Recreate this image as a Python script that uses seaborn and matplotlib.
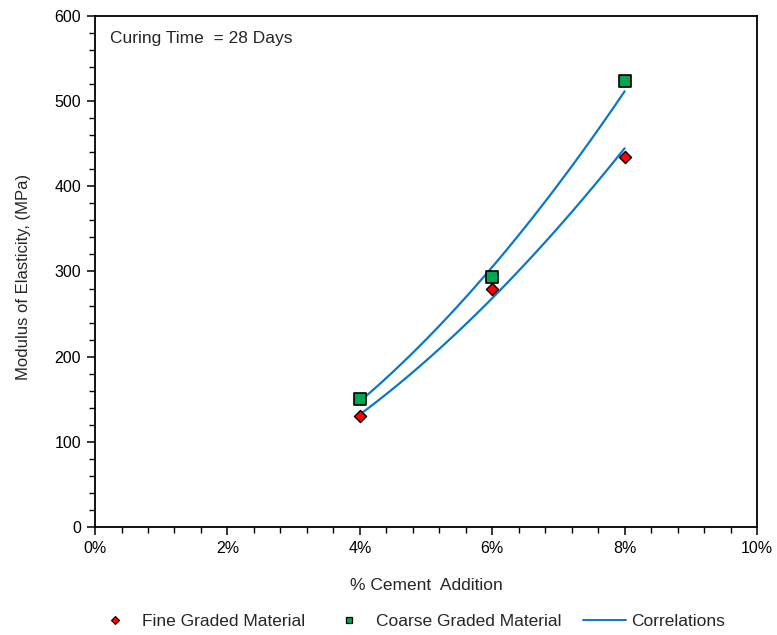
import numpy as np
import pandas as pd
import seaborn as sns
import matplotlib.pyplot as plt
from matplotlib.ticker import MultipleLocator, FuncFormatter
from matplotlib.lines import Line2D

sns.set_theme(style="white")
plt.rcParams['font.family'] = ['Liberation Sans', 'DejaVu Sans']

# --- data ---
cement_pct = [4, 6, 8]
fine_modulus = [130, 279, 435]
coarse_modulus = [150, 293, 524]

fine_color = "#FF0000"
coarse_color = "#00A651"
fit_color = "#0A78C8"

df = pd.DataFrame({
    "cement": cement_pct * 2,
    "modulus": fine_modulus + coarse_modulus,
    "material": ["Fine Graded Material"] * 3 + ["Coarse Graded Material"] * 3,
})


# power-law correlation (y = a * x^b) fitted to each series, like the trendline
def power_fit(x, y):
    b, ln_a = np.polyfit(np.log(x), np.log(y), 1)
    xs = np.linspace(min(x), max(x), 60)
    return pd.DataFrame({"cement": xs, "modulus": np.exp(ln_a) * xs ** b})


fig = plt.figure(figsize=(7.77, 6.35), dpi=100)
ax = fig.add_axes([0.1223, 0.1701, 0.8520, 0.8047])

for mat in ["Fine Graded Material", "Coarse Graded Material"]:
    sub = df[df["material"] == mat]
    fit = power_fit(sub["cement"].values, sub["modulus"].values)
    sns.lineplot(data=fit, x="cement", y="modulus", ax=ax, color=fit_color,
                 linewidth=1.6, zorder=2)

sns.scatterplot(data=df[df["material"] == "Fine Graded Material"], x="cement",
                y="modulus", ax=ax, marker="D", s=38, color=fine_color,
                edgecolor="black", linewidth=1.0, zorder=3)
sns.scatterplot(data=df[df["material"] == "Coarse Graded Material"], x="cement",
                y="modulus", ax=ax, marker="s", s=85, color=coarse_color,
                edgecolor="black", linewidth=1.2, zorder=3)

ax.set_xlim(0, 10)
ax.set_ylim(0, 600)
ax.xaxis.set_major_locator(MultipleLocator(2))
ax.xaxis.set_minor_locator(MultipleLocator(0.4))
ax.yaxis.set_major_locator(MultipleLocator(100))
ax.yaxis.set_minor_locator(MultipleLocator(20))
ax.xaxis.set_major_formatter(FuncFormatter(lambda v, p: f"{v:.0f}%"))

ax.tick_params(which="both", direction="out", bottom=True, left=True,
               top=False, right=False, colors="black", labelsize=11.5)
ax.tick_params(which="major", length=6, width=1.1, pad=4)
ax.tick_params(which="minor", length=4, width=1.0)
for s in ax.spines.values():
    s.set_color("black")
    s.set_linewidth(1.3)

ax.set_xlabel("% Cement  Addition", fontsize=12.5, labelpad=16)
ax.set_ylabel("Modulus of Elasticity, (MPa)", fontsize=12, labelpad=17)
ax.yaxis.label.set_y(0.49)

ax.text(0.022, 0.955, "Curing Time  = 28 Days", transform=ax.transAxes,
        fontsize=12.5, va="center", ha="left")

handles = [
    Line2D([], [], marker="D", linestyle="none", markerfacecolor=fine_color,
           markeredgecolor="black", markersize=4.5, markeredgewidth=0.8),
    Line2D([], [], marker="s", linestyle="none", markerfacecolor=coarse_color,
           markeredgecolor="black", markersize=5, markeredgewidth=0.9),
    Line2D([], [], color=fit_color, linewidth=1.4),
]
labels = ["Fine Graded Material", "Coarse Graded Material", "Correlations"]
fig.legend(handles, labels, loc="center", bbox_to_anchor=(0.527, 0.021),
           ncol=3, frameon=False, fontsize=12.5, handlelength=2.5,
           columnspacing=1.25, handletextpad=0.3)

fig.savefig("out.png", dpi=100)
